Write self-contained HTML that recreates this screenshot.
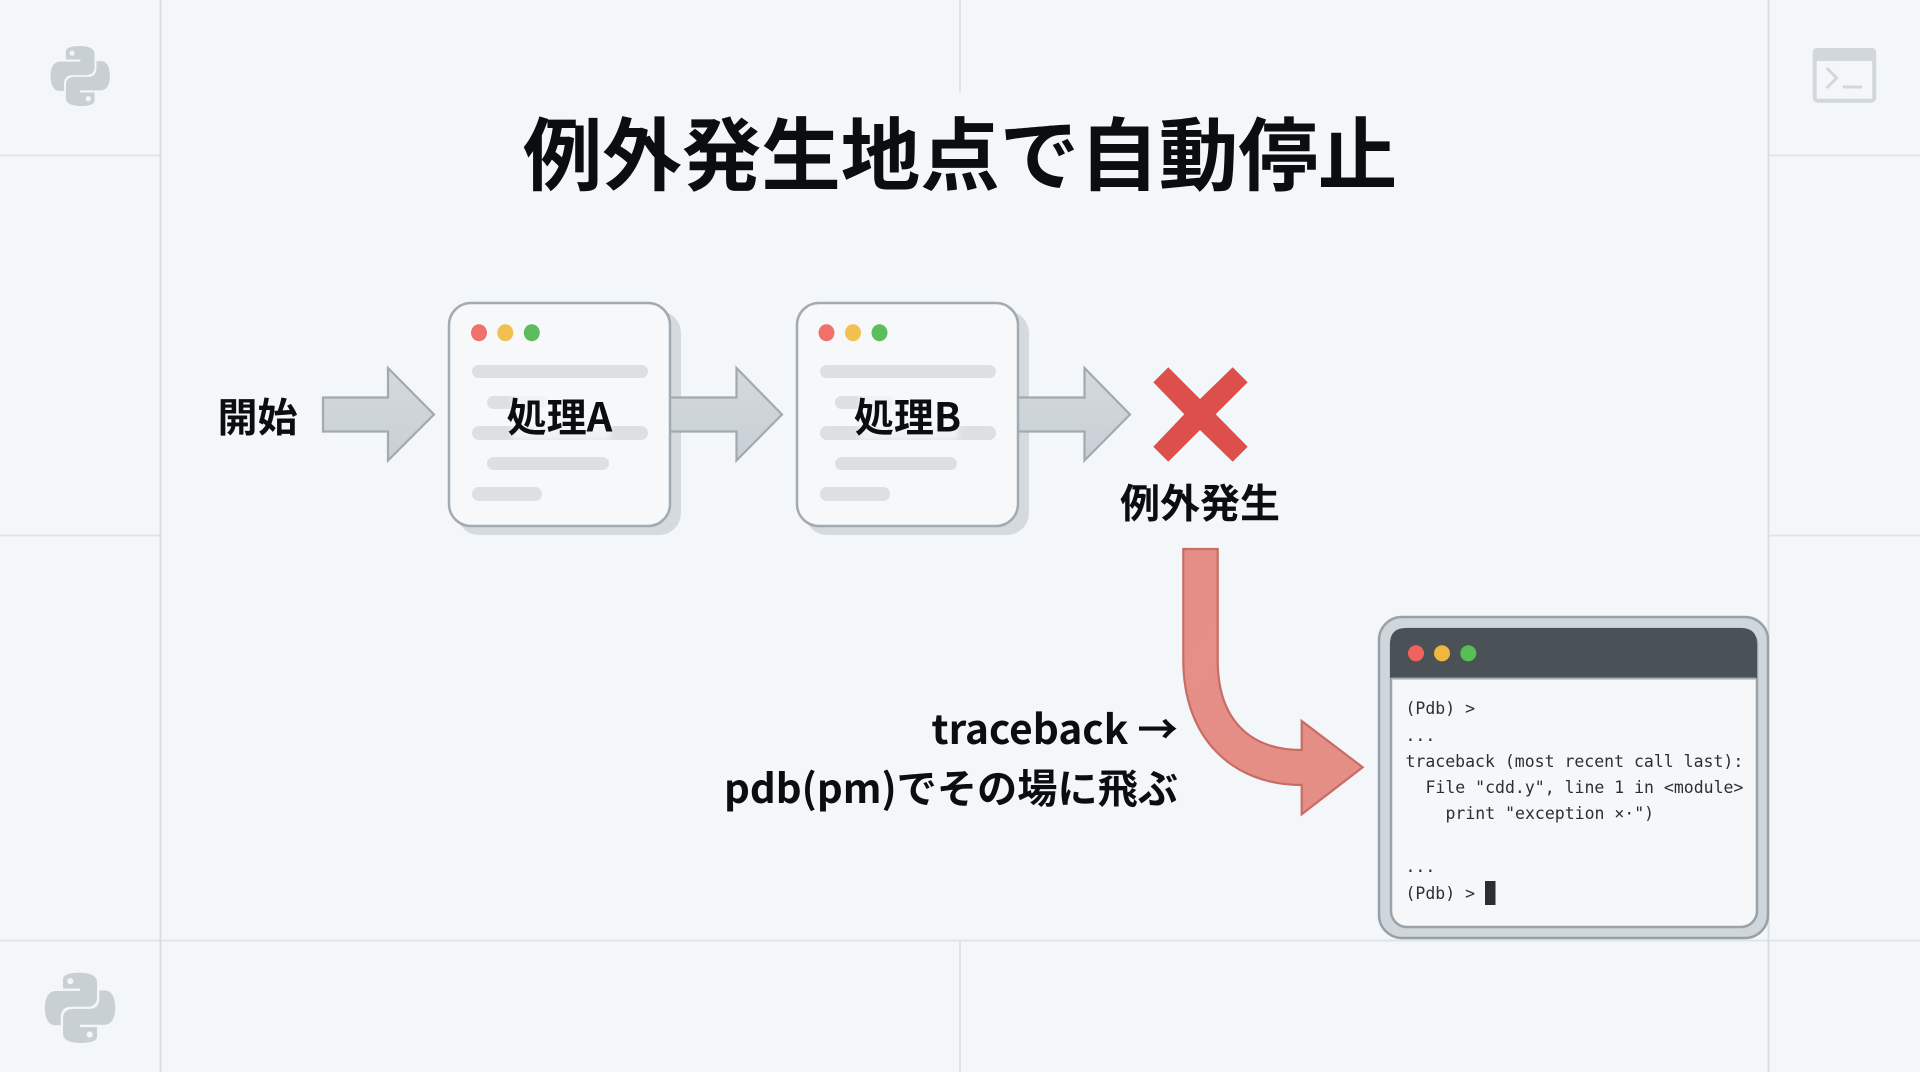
<!DOCTYPE html>
<html lang="ja">
<head>
<meta charset="utf-8">
<title>例外発生地点で自動停止</title>
<style>
html,body{margin:0;padding:0;width:1920px;height:1072px;overflow:hidden;background:#f4f7f9}
svg{display:block}
.j{font-family:"Noto Sans CJK JP","Liberation Sans",sans-serif;font-weight:700;fill:#0c0d0e}
.m{font-family:"DejaVu Sans Mono","Liberation Mono",monospace;font-size:16.5px;fill:#2b2f33}
</style>
</head>
<body>
<svg width="1920" height="1072" viewBox="0 0 1920 1072" xmlns="http://www.w3.org/2000/svg">
<defs>
<linearGradient id="ga" x1="0" y1="0" x2="0" y2="1"><stop offset="0" stop-color="#d3d9dd"/><stop offset="1" stop-color="#c9d0d5"/></linearGradient>
<linearGradient id="gr" x1="0" y1="0" x2="1" y2="1"><stop offset="0" stop-color="#e38f88"/><stop offset="1" stop-color="#e58e85"/></linearGradient>
<filter id="b" x="-10%" y="-10%" width="120%" height="120%"><feGaussianBlur stdDeviation="3"/></filter>
<path id="py" fill-rule="evenodd" d="M14.25.18l.9.2.73.26.59.3.45.32.34.34.25.34.16.33.1.3.04.26.02.2-.01.13V8.5l-.05.63-.13.55-.21.46-.26.38-.3.31-.33.25-.35.19-.35.14-.33.1-.3.07-.26.04-.21.02H8.77l-.69.05-.59.14-.5.22-.41.27-.33.32-.27.35-.2.36-.15.37-.1.35-.07.32-.04.27-.02.21v3.06H3.17l-.21-.03-.28-.07-.32-.12-.35-.18-.36-.26-.36-.36-.35-.46-.32-.59-.28-.73-.21-.88-.14-1.05-.05-1.23.06-1.22.16-1.04.24-.87.32-.71.36-.57.4-.44.42-.33.42-.24.4-.16.36-.1.32-.05.24-.01h.16l.06.01h8.16v-.83H6.18l-.01-2.75-.02-.37.05-.34.11-.31.17-.28.25-.26.31-.23.38-.2.44-.18.51-.15.58-.12.64-.1.71-.06.77-.04.84-.02 1.27.05zm-6.3 1.98l-.23.33-.08.41.08.41.23.34.33.22.41.09.41-.09.33-.22.23-.34.08-.41-.08-.41-.23-.33-.33-.22-.41-.09-.41.09zm13.09 3.95l.28.06.32.12.35.18.36.27.36.35.35.47.32.59.28.73.21.88.14 1.04.05 1.23-.06 1.23-.16 1.04-.24.86-.32.71-.36.57-.4.45-.42.33-.42.24-.4.16-.36.09-.32.05-.24.02-.16-.01h-8.22v.82h5.84l.01 2.76.02.36-.05.34-.11.31-.17.29-.25.25-.31.24-.38.2-.44.17-.51.15-.58.13-.64.09-.71.07-.77.04-.84.01-1.27-.04-1.07-.14-.9-.2-.73-.25-.59-.3-.45-.33-.34-.34-.25-.34-.16-.33-.1-.3-.04-.25-.02-.2.01-.13v-5.34l.05-.64.13-.54.21-.46.26-.38.3-.32.33-.24.35-.2.35-.14.33-.1.3-.06.26-.04.21-.02.13-.01h5.84l.69-.05.59-.14.5-.21.41-.28.33-.32.27-.35.2-.36.15-.36.1-.35.07-.32.04-.28.02-.21V6.07h2.09l.14.01zm-6.47 14.25l-.23.33-.08.41.08.41.23.33.33.23.41.08.41-.08.33-.23.23-.33.08-.41-.08-.41-.23-.33-.33-.23-.41-.08-.41.08z"/>
</defs>

<rect width="1920" height="1072" fill="#f4f7f9"/>

<!-- grid -->
<g stroke="#dfe4e7" stroke-width="2" fill="none">
<path d="M0 155.500H160M1768 155.500H1920M0 535.500H160M1768 535.500H1920M0 940.500H1920"/>
<path d="M960 0V92M960 940V1072"/>
<path d="M160.500 0V1072M1768.500 0V1072" stroke="#d8dee2"/>
</g>

<!-- corner icons -->
<g fill="#c9d0d4">
<use href="#py" transform="translate(50.700 46) scale(2.46 2.5)"/>
<use href="#py" transform="translate(45 972.700) scale(2.92 2.93)"/>
</g>
<g>
<rect x="1814.700" y="50" width="59.500" height="50.700" rx="3" fill="#f4f7f9" stroke="#d2d7db" stroke-width="4"/>
<path d="M1813 52q0-4 4-4h55q4 0 4 4v9h-63z" fill="#d2d7db"/>
<path d="M1826.700 68l10 10-10 10" fill="none" stroke="#d2d7db" stroke-width="3"/>
<path d="M1843 87h19" stroke="#d2d7db" stroke-width="3"/>
</g>

<!-- title -->
<text class="j" x="960" y="184" font-size="79.500" text-anchor="middle">例外発生地点で自動停止</text>

<!-- start -->
<text class="j" x="257.500" y="431.500" font-size="40" text-anchor="middle">開始</text>

<!-- shadows -->
<rect x="457" y="311" width="224" height="224" rx="22" fill="#d5dadf"/>
<rect x="805" y="311" width="224" height="224" rx="22" fill="#d5dadf"/>

<!-- grey arrows -->
<g fill="url(#ga)" stroke="#a0aab0" stroke-width="2.200" stroke-linejoin="miter">
<path d="M323 397.500H388V368L434 414.500L388 460.500V431.500H323Z"/>
<path d="M665 397.500H736.500V368L782 414.500L736.500 460.500V431.500H665Z"/>
<path d="M1014 397.500H1084.500V368L1130 414.500L1084.500 460.500V431.500H1014Z"/>
</g>

<!-- card A -->
<g>
<rect x="449" y="303" width="221" height="223" rx="22" fill="#f6f8fa" stroke="#a2abb1" stroke-width="2.500"/>
<ellipse cx="479" cy="332.700" rx="8" ry="8.500" fill="#f0716a"/>
<ellipse cx="505.300" cy="332.700" rx="8" ry="8.500" fill="#f1c04f"/>
<ellipse cx="531.800" cy="332.700" rx="8" ry="8.500" fill="#5bbd5e"/>
<g fill="#dce0e3">
<rect x="472" y="365" width="176" height="13" rx="6.500"/>
<rect x="487" y="396" width="60" height="13" rx="6.500"/>
<rect x="472" y="426" width="176" height="14" rx="7"/>
<rect x="487" y="457" width="122" height="13" rx="6.500"/>
<rect x="472" y="487" width="70" height="14" rx="7"/>
</g>
<rect x="512" y="392" width="98" height="48" fill="#f6f8fa" opacity=".8" filter="url(#b)"/>
<text class="j" x="559.500" y="431.500" font-size="40" text-anchor="middle">処理A</text>
</g>

<!-- card B -->
<g>
<rect x="797" y="303" width="221" height="223" rx="22" fill="#f6f8fa" stroke="#a2abb1" stroke-width="2.500"/>
<ellipse cx="826.500" cy="332.700" rx="8" ry="8.500" fill="#f0716a"/>
<ellipse cx="853" cy="332.700" rx="8" ry="8.500" fill="#f1c04f"/>
<ellipse cx="879.500" cy="332.700" rx="8" ry="8.500" fill="#5bbd5e"/>
<g fill="#dce0e3">
<rect x="820" y="365" width="176" height="13" rx="6.500"/>
<rect x="835" y="396" width="60" height="13" rx="6.500"/>
<rect x="820" y="426" width="176" height="14" rx="7"/>
<rect x="835" y="457" width="122" height="13" rx="6.500"/>
<rect x="820" y="487" width="70" height="14" rx="7"/>
</g>
<rect x="860" y="392" width="98" height="48" fill="#f6f8fa" opacity=".8" filter="url(#b)"/>
<text class="j" x="907.500" y="431.500" font-size="40" text-anchor="middle">処理B</text>
</g>

<!-- X -->
<path d="M1168.300 367.300L1200 399L1232.700 367.300L1247.700 382.300L1215.700 414.300L1247.700 446.700L1232.700 461.700L1200 430L1168.300 461.700L1153.300 446.700L1184.300 414.300L1153.300 382.300Z" fill="#dc4f4a"/>
<text class="j" x="1200" y="517.500" font-size="40" text-anchor="middle">例外発生</text>

<!-- red curved arrow -->
<path d="M1183.300 549V660C1183.300 738 1232 785 1301.700 785V814.300L1362.700 767.300L1301.700 721V750C1252 750 1217.700 722 1217.700 660V549Z" fill="url(#gr)" stroke="#c96c66" stroke-width="2.200" stroke-linejoin="miter"/>

<!-- side label -->
<text class="j" x="1178" y="744" font-size="40.600" text-anchor="end">traceback →</text>
<text class="j" x="1178" y="803" font-size="40.200" text-anchor="end">pdb(pm)でその場に飛ぶ</text>

<!-- terminal -->
<rect x="1379" y="617" width="389" height="321" rx="23" fill="#d0d7dc" stroke="#98a1a7" stroke-width="2.500"/>
<rect x="1391" y="629" width="366" height="298" rx="16" fill="#f5f7f9" stroke="#9aa3a9" stroke-width="2.500"/>
<path d="M1390 678V644q0-16 16-16h335q16 0 16 16v34z" fill="#4a5157"/>
<path d="M1391 678.500H1756" stroke="#a1a9af" stroke-width="2"/>
<circle cx="1416" cy="653.300" r="8" fill="#f0625e"/>
<circle cx="1442" cy="653.300" r="8" fill="#f1b63f"/>
<circle cx="1468.300" cy="653.300" r="8" fill="#58bf57"/>
<g>
<text class="m" x="1405.500" y="714">(Pdb) &gt;</text>
<text class="m" x="1405.500" y="741">...</text>
<text class="m" x="1405.500" y="767">traceback (most recent call last):</text>
<text class="m" x="1425.500" y="793">File "cdd.y", line 1 in &lt;module&gt;</text>
<text class="m" x="1445.500" y="819">print "exception ×·")</text>
<text class="m" x="1405.500" y="872">...</text>
<text class="m" x="1405.500" y="899">(Pdb) &gt;</text>
</g>
<rect x="1485" y="881" width="10.500" height="24" fill="#2b2f33"/>
</svg>
</body>
</html>
